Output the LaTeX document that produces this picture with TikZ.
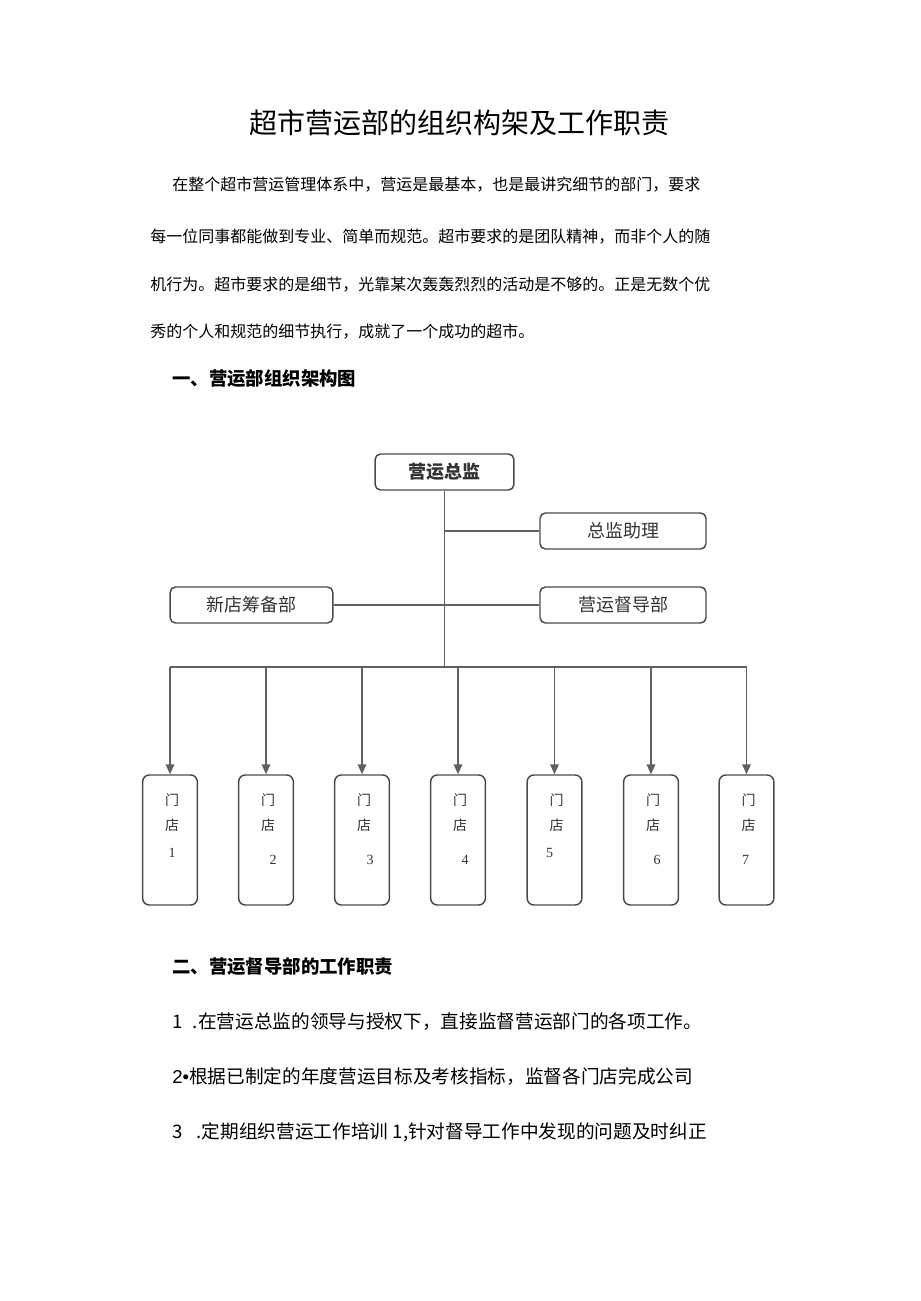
\documentclass[tikz,border=0pt]{standalone}
\usepackage{fontspec}
\setmainfont{Noto Sans CJK SC}
\newfontfamily\numfont{Liberation Serif}
\newfontfamily\latinfont{Liberation Sans}
\usetikzlibrary{positioning, arrows.meta}

\definecolor{boxgray}{HTML}{4A4A4A}
\definecolor{linegray}{HTML}{606060}
\tikzset{
  bodytext/.style={anchor=west, inner sep=0pt, font=\fontsize{12}{14}\selectfont},
  headtext/.style={anchor=west, inner sep=0pt, font=\fontsize{13.8}{16}\selectfont\bfseries},
  itemtext/.style={anchor=west, inner sep=0pt, font=\fontsize{14}{16}\selectfont},
  orgbox/.style={draw=boxgray, line width=1.1pt, rounded corners=4pt, fill=white,
    minimum height=27pt, inner sep=0pt, font=\fontsize{13.5}{16}\selectfont, text=black!80},
  storebox/.style={draw=boxgray, line width=1.1pt, rounded corners=5pt,
    minimum width=41pt, minimum height=97.5pt, inner sep=0pt},
  storetext/.style={inner sep=0pt, font=\fontsize{10.5}{13}\selectfont, text=black!80},
  link/.style={draw=linegray, line width=1.1pt},
}

\begin{document}
\begin{tikzpicture}[x=0.75pt, y=-0.75pt]
    \useasboundingbox[fill=white] (0,0) rectangle (920,1301);

    % title and opening paragraph
    \node[font=\fontsize{21}{25}\selectfont] (title) at (459,123) {超市营运部的组织构架及工作职责};
    \node[bodytext] (p1) at (172,185) {在整个超市营运管理体系中，营运是最基本，也是最讲究细节的部门，要求};
    \node[bodytext] (p2) at (150,237) {每一位同事都能做到专业、简单而规范。超市要求的是团队精神，而非个人的随};
    \node[bodytext] (p3) at (150,285) {机行为。超市要求的是细节，光靠某次轰轰烈烈的活动是不够的。正是无数个优};
    \node[bodytext] (p4) at (150,332) {秀的个人和规范的细节执行，成就了一个成功的超市。};
    \node[headtext] (h1) at (172,379) {一、营运部组织架构图};

    % org chart
    \node[orgbox, minimum width=104pt, font=\fontsize{13.5}{16}\selectfont\bfseries] (boss) at (444.5,472) {营运总监};
    \node[orgbox, minimum width=124.5pt] (assist) at (623,531) {总监助理};
    \node[orgbox, minimum width=122pt] (newshop) at (251.5,605) {新店筹备部};
    \node[orgbox, minimum width=124.5pt] (superv) at (623,605) {营运督导部};
    \coordinate (busmid) at (444.5,667);

    \draw[link] (boss.south) -- (busmid);
    \draw[link] (boss.south |- assist.west) -- (assist.west);
    \draw[link] (newshop.east) -- (superv.west);

    % stores
    \foreach \i/\x/\dx/\ny in {1/170/2/853, 2/266/7/860, 3/362/8/860, 4/458/7/860,
                               5/554.5/-5/853, 6/651/6/860, 7/746.5/-1/860} {
        \node[storebox] (s\i) at (\x,840) {};
        \node[storetext] (m\i) at (\x+2,800) {门};
        \node[storetext] (d\i) at (\x+2,825) {店};
        \node[storetext, font=\fontsize{10.5}{13}\selectfont\numfont] (n\i) at (\x+\dx,\ny) {\i};
        \draw[link, -{Triangle[length=7.5pt, width=6.5pt]}] (s\i.north |- busmid) -- (s\i.north);
    }
    \draw[link] (s1.north |- busmid) -- (s7.north |- busmid);

    % duties
    \node[headtext] (h2) at (172,967) {二、营运督导部的工作职责};
    \node[itemtext] (i1) at (172,1022) {1\hspace{0.55em}.在营运总监的领导与授权下，直接监督营运部门的各项工作。};
    \node[itemtext] (i2) at (172,1077) {{\latinfont 2•}根据已制定的年度营运目标及考核指标，监督各门店完成公司};
    \node[itemtext] (i3) at (172,1132) {3\hspace{0.75em}.定期组织营运工作培训 1,针对督导工作中发现的问题及时纠正};
\end{tikzpicture}
\end{document}
